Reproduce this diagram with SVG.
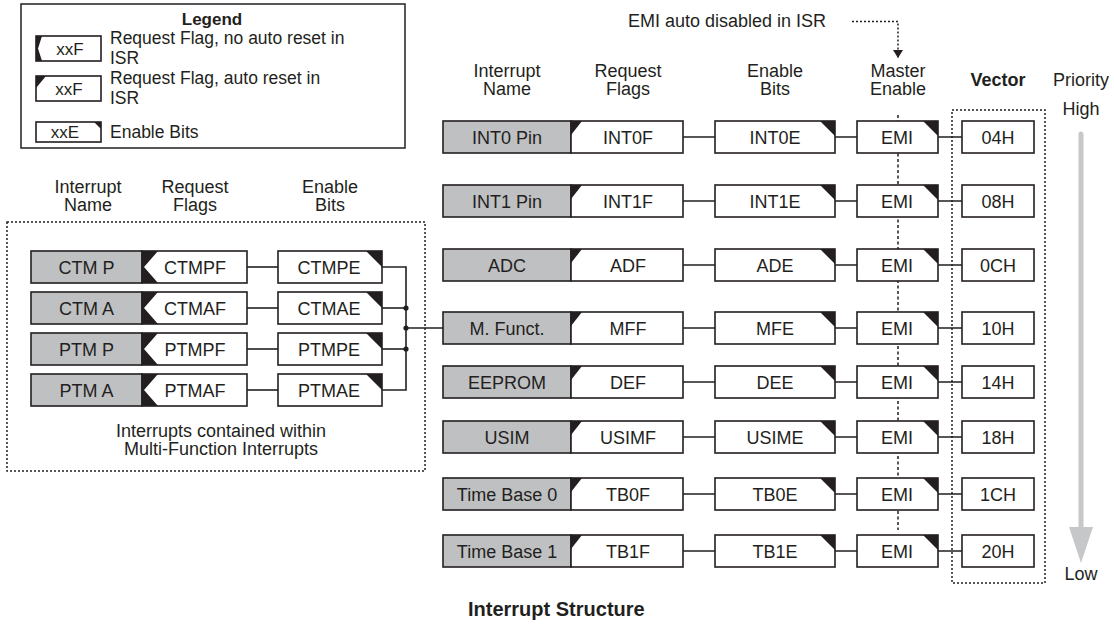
<svg xmlns="http://www.w3.org/2000/svg" width="1114" height="624" viewBox="0 0 1114 624">
<defs>
<style>
.t{font-family:"Liberation Sans",Arial,Helvetica,sans-serif;font-size:18px;fill:#231f20}
.lg{font-size:17.5px}
.c{text-anchor:middle}
.b{font-weight:bold}
.box{fill:#fff;stroke:#231f20;stroke-width:1.6}
.nm{fill:#bfc0c2;stroke:#231f20;stroke-width:1.6}
.blk{fill:#231f20}
.ln{stroke:#231f20;stroke-width:1.6;fill:none}
.dt{stroke:#231f20;stroke-width:1.5;fill:none;stroke-dasharray:2 2}
.pr{fill:#c6c7c9}
</style>
<marker id="ah" viewBox="0 0 8 10" refX="8" refY="5" markerWidth="8" markerHeight="10" markerUnits="userSpaceOnUse" orient="auto">
<path d="M0,0 L8,5 L0,10 z" fill="#231f20"/>
</marker>
</defs>
<rect width="1114" height="624" fill="#fff"/>

<!-- Legend -->
<g id="legend">
<rect x="21" y="4" width="384" height="144" fill="#fff" stroke="#231f20" stroke-width="1.5"/>
<text class="t c b" x="212" y="25" style="font-size:17px">Legend</text>
<rect class="box" x="36" y="36" width="65" height="25"/>
<polygon class="blk" points="36,36 42,36 38,48.5 42,61 36,61"/>
<text class="t c" x="70" y="55" style="font-size:17px">xxF</text>
<text class="t lg" x="110" y="44">Request Flag, no auto reset in</text>
<text class="t lg" x="110" y="63.5">ISR</text>
<rect class="box" x="36" y="76" width="65" height="25"/>
<polygon class="blk" points="36,76 46,76 36,88"/>
<text class="t c" x="69" y="95" style="font-size:17px">xxF</text>
<text class="t lg" x="110" y="84">Request Flag, auto reset in</text>
<text class="t lg" x="110" y="103.5">ISR</text>
<rect class="box" x="36" y="122" width="65" height="20"/>
<polygon class="blk" points="94,122 101,122 101,129"/>
<text class="t c" x="65" y="138" style="font-size:17px">xxE</text>
<text class="t lg" x="110" y="138">Enable Bits</text>
</g>

<!-- Left group headers -->
<g id="left-headers">
<text class="t c" x="88" y="193">Interrupt</text>
<text class="t c" x="88" y="211">Name</text>
<text class="t c" x="195" y="193">Request</text>
<text class="t c" x="195" y="211">Flags</text>
<text class="t c" x="330" y="193">Enable</text>
<text class="t c" x="330" y="211">Bits</text>
</g>
<g id="mf-container">
<rect class="dt" x="7" y="222" width="418" height="249"/>
<text class="t c" x="221" y="437">Interrupts contained within</text>
<text class="t c" x="221" y="455">Multi-Function Interrupts</text>
</g>

<!-- Right headers -->
<g id="right-headers">
<text class="t c" x="507" y="77">Interrupt</text>
<text class="t c" x="507" y="95">Name</text>
<text class="t c" x="628" y="77">Request</text>
<text class="t c" x="628" y="95">Flags</text>
<text class="t c" x="775" y="77">Enable</text>
<text class="t c" x="775" y="95">Bits</text>
<text class="t c" x="898" y="77">Master</text>
<text class="t c" x="898" y="95">Enable</text>
<text class="t c b" x="998" y="86">Vector</text>
<text class="t c" x="1081" y="86">Priority</text>
<text class="t c" x="1081" y="115">High</text>
<text class="t c" x="1081" y="580">Low</text>
<text class="t" x="628" y="27">EMI auto disabled in ISR</text>
</g>

<!-- Connectors -->
<g id="connectors">
<path class="dt" d="M852,21.5 H898 V58" marker-end="url(#ah)"/>
<line class="dt" x1="898" y1="115" x2="898" y2="530" style="stroke-dasharray:3 2.5"/>
<rect class="dt" x="952" y="110" width="93" height="473"/>
<!-- left rows -->
<line class="ln" x1="247" y1="267" x2="278" y2="267"/>
<line class="ln" x1="247" y1="308" x2="278" y2="308"/>
<line class="ln" x1="247" y1="349" x2="278" y2="349"/>
<line class="ln" x1="247" y1="390" x2="278" y2="390"/>
<path class="ln" d="M382,267 H406 V390 H382"/>
<line class="ln" x1="382" y1="308" x2="406" y2="308"/>
<line class="ln" x1="382" y1="349" x2="406" y2="349"/>
<line class="ln" x1="406" y1="328" x2="443" y2="328"/>
<circle cx="406" cy="308" r="2.6" fill="#231f20"/>
<circle cx="406" cy="328" r="2.6" fill="#231f20"/>
<circle cx="406" cy="349" r="2.6" fill="#231f20"/>
<!-- right rows -->
<path class="ln" d="M683,137 H715 M835,137 H857 M938,137 H962"/>
<path class="ln" d="M683,201 H715 M835,201 H857 M938,201 H962"/>
<path class="ln" d="M683,265 H715 M835,265 H857 M938,265 H962"/>
<path class="ln" d="M683,328 H715 M835,328 H857 M938,328 H962"/>
<path class="ln" d="M683,382 H715 M835,382 H857 M938,382 H962"/>
<path class="ln" d="M683,437 H715 M835,437 H857 M938,437 H962"/>
<path class="ln" d="M683,494 H715 M835,494 H857 M938,494 H962"/>
<path class="ln" d="M683,551 H715 M835,551 H857 M938,551 H962"/>
</g>

<!-- Priority arrow -->
<g id="priority-arrow">
<line x1="1081" y1="134" x2="1081" y2="530" stroke="#c6c7c9" stroke-width="5" stroke-linecap="round"/>
<polygon class="pr" points="1069,527 1093,527 1081,563"/>
</g>

<!-- Left rows nodes -->
<g id="n-ctmp"><rect class="nm" x="31" y="251" width="111" height="32"/><text class="t c" x="86.5" y="273.5">CTM P</text></g>
<g id="f-ctmpf"><rect class="box" x="142" y="251" width="105" height="32"/><polygon class="blk" points="142,251 158,251 144,267 158,283 142,283"/><text class="t c" x="195" y="273.5">CTMPF</text></g>
<g id="e-ctmpe"><rect class="box" x="278" y="251" width="104" height="32"/><polygon class="blk" points="366,251 382,251 382,267"/><text class="t c" x="329" y="273.5">CTMPE</text></g>

<g id="n-ctma"><rect class="nm" x="31" y="292" width="111" height="32"/><text class="t c" x="86.5" y="314.5">CTM A</text></g>
<g id="f-ctmaf"><rect class="box" x="142" y="292" width="105" height="32"/><polygon class="blk" points="142,292 158,292 144,308 158,324 142,324"/><text class="t c" x="195" y="314.5">CTMAF</text></g>
<g id="e-ctmae"><rect class="box" x="278" y="292" width="104" height="32"/><polygon class="blk" points="366,292 382,292 382,308"/><text class="t c" x="329" y="314.5">CTMAE</text></g>

<g id="n-ptmp"><rect class="nm" x="31" y="333" width="111" height="32"/><text class="t c" x="86.5" y="355.5">PTM P</text></g>
<g id="f-ptmpf"><rect class="box" x="142" y="333" width="105" height="32"/><polygon class="blk" points="142,333 158,333 144,349 158,365 142,365"/><text class="t c" x="195" y="355.5">PTMPF</text></g>
<g id="e-ptmpe"><rect class="box" x="278" y="333" width="104" height="32"/><polygon class="blk" points="366,333 382,333 382,349"/><text class="t c" x="329" y="355.5">PTMPE</text></g>

<g id="n-ptma"><rect class="nm" x="31" y="374" width="111" height="32"/><text class="t c" x="86.5" y="396.5">PTM A</text></g>
<g id="f-ptmaf"><rect class="box" x="142" y="374" width="105" height="32"/><polygon class="blk" points="142,374 158,374 144,390 158,406 142,406"/><text class="t c" x="195" y="396.5">PTMAF</text></g>
<g id="e-ptmae"><rect class="box" x="278" y="374" width="104" height="32"/><polygon class="blk" points="366,374 382,374 382,390"/><text class="t c" x="329" y="396.5">PTMAE</text></g>

<!-- Right rows nodes -->
<g id="n-int0"><rect class="nm" x="443" y="121" width="128" height="32"/><text class="t c" x="507" y="143.5">INT0 Pin</text></g>
<g id="f-int0f"><rect class="box" x="571" y="121" width="112" height="32"/><polygon class="blk" points="571,121 582,121 571,135"/><text class="t c" x="628" y="143.5">INT0F</text></g>
<g id="e-int0e"><rect class="box" x="715" y="121" width="120" height="32"/><polygon class="blk" points="820,121 835,121 835,136"/><text class="t c" x="775" y="143.5">INT0E</text></g>
<g id="m-emi0"><rect class="box" x="857" y="121" width="81" height="32"/><polygon class="blk" points="923,121 938,121 938,136"/><text class="t c" x="897" y="143.5">EMI</text></g>
<g id="v-04h"><rect class="box" x="962" y="121" width="72" height="32"/><text class="t c" x="998" y="143.5">04H</text></g>

<g id="n-int1"><rect class="nm" x="443" y="185" width="128" height="32"/><text class="t c" x="507" y="207.5">INT1 Pin</text></g>
<g id="f-int1f"><rect class="box" x="571" y="185" width="112" height="32"/><polygon class="blk" points="571,185 582,185 571,199"/><text class="t c" x="628" y="207.5">INT1F</text></g>
<g id="e-int1e"><rect class="box" x="715" y="185" width="120" height="32"/><polygon class="blk" points="820,185 835,185 835,200"/><text class="t c" x="775" y="207.5">INT1E</text></g>
<g id="m-emi1"><rect class="box" x="857" y="185" width="81" height="32"/><polygon class="blk" points="923,185 938,185 938,200"/><text class="t c" x="897" y="207.5">EMI</text></g>
<g id="v-08h"><rect class="box" x="962" y="185" width="72" height="32"/><text class="t c" x="998" y="207.5">08H</text></g>

<g id="n-adc"><rect class="nm" x="443" y="249" width="128" height="32"/><text class="t c" x="507" y="271.5">ADC</text></g>
<g id="f-adf"><rect class="box" x="571" y="249" width="112" height="32"/><polygon class="blk" points="571,249 582,249 571,263"/><text class="t c" x="628" y="271.5">ADF</text></g>
<g id="e-ade"><rect class="box" x="715" y="249" width="120" height="32"/><polygon class="blk" points="820,249 835,249 835,264"/><text class="t c" x="775" y="271.5">ADE</text></g>
<g id="m-emi2"><rect class="box" x="857" y="249" width="81" height="32"/><polygon class="blk" points="923,249 938,249 938,264"/><text class="t c" x="897" y="271.5">EMI</text></g>
<g id="v-0ch"><rect class="box" x="962" y="249" width="72" height="32"/><text class="t c" x="998" y="271.5">0CH</text></g>

<g id="n-mf"><rect class="nm" x="443" y="312" width="128" height="32"/><text class="t c" x="507" y="334.5">M. Funct.</text></g>
<g id="f-mff"><rect class="box" x="571" y="312" width="112" height="32"/><polygon class="blk" points="571,312 582,312 571,326"/><text class="t c" x="628" y="334.5">MFF</text></g>
<g id="e-mfe"><rect class="box" x="715" y="312" width="120" height="32"/><polygon class="blk" points="820,312 835,312 835,327"/><text class="t c" x="775" y="334.5">MFE</text></g>
<g id="m-emi3"><rect class="box" x="857" y="312" width="81" height="32"/><polygon class="blk" points="923,312 938,312 938,327"/><text class="t c" x="897" y="334.5">EMI</text></g>
<g id="v-10h"><rect class="box" x="962" y="312" width="72" height="32"/><text class="t c" x="998" y="334.5">10H</text></g>

<g id="n-eeprom"><rect class="nm" x="443" y="366" width="128" height="32"/><text class="t c" x="507" y="388.5">EEPROM</text></g>
<g id="f-def"><rect class="box" x="571" y="366" width="112" height="32"/><polygon class="blk" points="571,366 582,366 571,380"/><text class="t c" x="628" y="388.5">DEF</text></g>
<g id="e-dee"><rect class="box" x="715" y="366" width="120" height="32"/><polygon class="blk" points="820,366 835,366 835,381"/><text class="t c" x="775" y="388.5">DEE</text></g>
<g id="m-emi4"><rect class="box" x="857" y="366" width="81" height="32"/><polygon class="blk" points="923,366 938,366 938,381"/><text class="t c" x="897" y="388.5">EMI</text></g>
<g id="v-14h"><rect class="box" x="962" y="366" width="72" height="32"/><text class="t c" x="998" y="388.5">14H</text></g>

<g id="n-usim"><rect class="nm" x="443" y="421" width="128" height="32"/><text class="t c" x="507" y="443.5">USIM</text></g>
<g id="f-usimf"><rect class="box" x="571" y="421" width="112" height="32"/><polygon class="blk" points="571,421 582,421 571,435"/><text class="t c" x="628" y="443.5">USIMF</text></g>
<g id="e-usime"><rect class="box" x="715" y="421" width="120" height="32"/><polygon class="blk" points="820,421 835,421 835,436"/><text class="t c" x="775" y="443.5">USIME</text></g>
<g id="m-emi5"><rect class="box" x="857" y="421" width="81" height="32"/><polygon class="blk" points="923,421 938,421 938,436"/><text class="t c" x="897" y="443.5">EMI</text></g>
<g id="v-18h"><rect class="box" x="962" y="421" width="72" height="32"/><text class="t c" x="998" y="443.5">18H</text></g>

<g id="n-tb0"><rect class="nm" x="443" y="478" width="128" height="32"/><text class="t c" x="507" y="500.5">Time Base 0</text></g>
<g id="f-tb0f"><rect class="box" x="571" y="478" width="112" height="32"/><polygon class="blk" points="571,478 582,478 571,492"/><text class="t c" x="628" y="500.5">TB0F</text></g>
<g id="e-tb0e"><rect class="box" x="715" y="478" width="120" height="32"/><polygon class="blk" points="820,478 835,478 835,493"/><text class="t c" x="775" y="500.5">TB0E</text></g>
<g id="m-emi6"><rect class="box" x="857" y="478" width="81" height="32"/><polygon class="blk" points="923,478 938,478 938,493"/><text class="t c" x="897" y="500.5">EMI</text></g>
<g id="v-1ch"><rect class="box" x="962" y="478" width="72" height="32"/><text class="t c" x="998" y="500.5">1CH</text></g>

<g id="n-tb1"><rect class="nm" x="443" y="535" width="128" height="32"/><text class="t c" x="507" y="557.5">Time Base 1</text></g>
<g id="f-tb1f"><rect class="box" x="571" y="535" width="112" height="32"/><polygon class="blk" points="571,535 582,535 571,549"/><text class="t c" x="628" y="557.5">TB1F</text></g>
<g id="e-tb1e"><rect class="box" x="715" y="535" width="120" height="32"/><polygon class="blk" points="820,535 835,535 835,550"/><text class="t c" x="775" y="557.5">TB1E</text></g>
<g id="m-emi7"><rect class="box" x="857" y="535" width="81" height="32"/><polygon class="blk" points="923,535 938,535 938,550"/><text class="t c" x="897" y="557.5">EMI</text></g>
<g id="v-20h"><rect class="box" x="962" y="535" width="72" height="32"/><text class="t c" x="998" y="557.5">20H</text></g>

<text class="t b" x="468" y="616" style="font-size:20px">Interrupt Structure</text>
</svg>
